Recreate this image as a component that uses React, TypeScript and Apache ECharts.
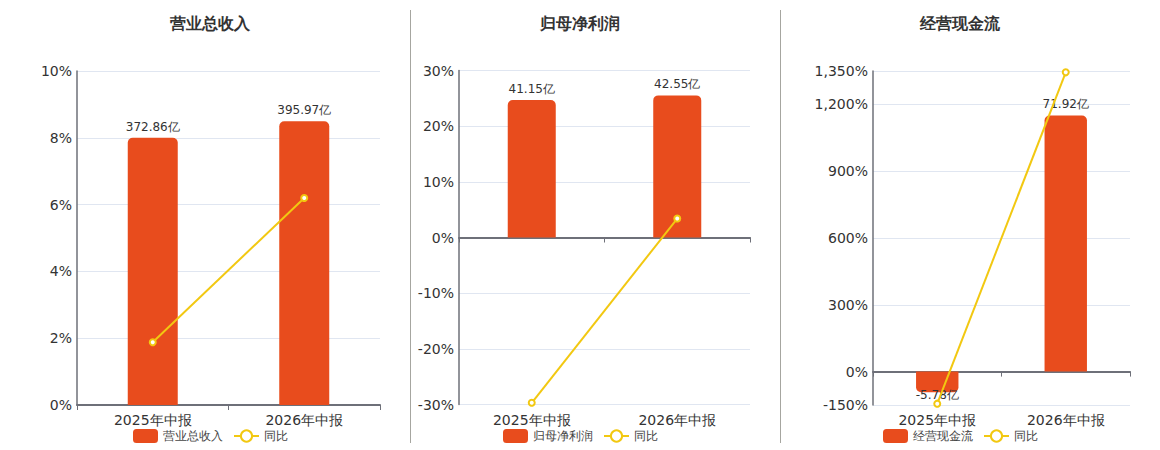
import React, { useEffect, useRef } from "react";
import * as echarts from "echarts";

const categories = ["2025年中报", "2026年中报"];
const titles = ["营业总收入", "归母净利润", "经营现金流"];
const revenue = [372.86, 395.97];
const revenueYoy = [1.88, 6.2];
const netProfit = [41.15, 42.55];
const netProfitYoy = [-29.7, 3.4];
const cashFlow = [-5.78, 71.92];
const cashFlowYoy = [-144, 1344];
const cashFlowTicks = [-150, 0, 300, 600, 900, 1200, 1350];

const BAR = "#E84C1D";
const LINE = "#F2C811";
const AXIS = "#6E7079";
const TEXT = "#333";
const FONT = "'DejaVu Sans', sans-serif";

const barValues = [revenue, netProfit, cashFlow];
const yoyValues = [revenueYoy, netProfitYoy, cashFlowYoy];

const grids = [
  { left: 77, top: 71, width: 303, height: 334 },
  { left: 459, top: 70.5, width: 291, height: 334 },
  { left: 873, top: 71, width: 257, height: 334 },
];
const centers = [210, 580, 960];
const legendLefts = [128, 498, 878];

const pctAxes = [
  { min: 0, max: 10, interval: 2 },
  { min: -30, max: 30, interval: 10 },
  { min: -150, max: 1350, interval: 150, customValues: cashFlowTicks },
];
const barAxes = [
  { min: 0, max: 466.1 },
  { min: -50, max: 50 },
  { min: -9.38, max: 84.4 },
];

function fmtPct(v: number) {
  return v.toLocaleString("en-US") + "%";
}

export default function App() {
  const ref = useRef<HTMLDivElement>(null);
  useEffect(() => {
    document.body.style.margin = "0";
    if (!ref.current) return;
    const chart = echarts.init(ref.current, undefined, { renderer: "svg" });

    const xAxis: any[] = [];
    const yAxis: any[] = [];
    const series: any[] = [];
    const graphic: any[] = [];
    const legend: any[] = [];

    for (let i = 0; i < 3; i++) {
      xAxis.push({
        type: "category",
        gridIndex: i,
        data: categories,
        position: "bottom",
        axisLine: { show: false, onZero: false },
        axisTick: { show: false },
        axisLabel: { color: TEXT, fontSize: 14, margin: 8, fontFamily: FONT },
      });
      xAxis.push({
        type: "category",
        gridIndex: i,
        data: categories,
        position: "bottom",
        axisLine: { show: true, onZero: true, lineStyle: { color: AXIS, width: 2 } },
        axisTick: { show: true, length: 5, lineStyle: { color: AXIS, width: 1 } },
        axisLabel: { show: false },
      });
      const p: any = pctAxes[i];
      yAxis.push({
        type: "value",
        gridIndex: i,
        min: p.min,
        max: p.max,
        interval: p.interval,
        axisLine: { show: true, lineStyle: { color: AXIS, width: 1.5 } },
        axisTick: p.customValues ? { show: false, customValues: p.customValues } : { show: false },
        axisLabel: {
          color: TEXT,
          fontSize: 14,
          margin: 5,
          fontFamily: FONT,
          formatter: (v: number) => fmtPct(v),
          ...(p.customValues ? { customValues: p.customValues } : {}),
        },
        splitLine: { show: true, lineStyle: { color: "#E0E6F1" } },
      });
      yAxis.push({
        type: "value",
        gridIndex: i,
        show: false,
        min: barAxes[i].min,
        max: barAxes[i].max,
        splitLine: { show: false },
      });

      series.push({
        type: "bar",
        name: titles[i],
        xAxisIndex: 2 * i,
        yAxisIndex: 2 * i + 1,
        barWidth: "33%",
        itemStyle: { color: BAR },
        data: barValues[i].map((v) => ({
          value: v,
          itemStyle: { borderRadius: v >= 0 ? [5, 5, 0, 0] : [0, 0, 5, 5] },
          label: {
            show: true,
            position: v >= 0 ? "top" : "bottom",
            distance: v >= 0 ? 5 : -3,
            color: TEXT,
            fontSize: 12,
            fontFamily: FONT,
            formatter: (prm: any) => prm.value + "亿",
          },
        })),
      });
      series.push({
        type: "line",
        name: "同比",
        xAxisIndex: 2 * i,
        yAxisIndex: 2 * i,
        symbol: "emptyCircle",
        symbolSize: 6,
        itemStyle: { color: LINE, borderWidth: 2 },
        lineStyle: { color: LINE, width: 2 },
        data: yoyValues[i],
        z: 5,
      });

      graphic.push({
        type: "text",
        x: centers[i],
        y: 23,
        style: {
          text: titles[i],
          fill: TEXT,
          font: "bold 16px " + FONT,
          textAlign: "center",
          textVerticalAlign: "middle",
        },
      });
      legend.push({
        data: [titles[i], "同比"],
        left: legendLefts[i],
        top: 424,
        itemWidth: 25,
        itemHeight: 14,
        itemGap: 10,
        textStyle: { color: "#444", fontSize: 12, fontFamily: FONT },
        selectedMode: false,
      });
    }

    graphic.push(
      { type: "line", shape: { x1: 410.5, y1: 10, x2: 410.5, y2: 443 }, style: { stroke: "#A6A6A0", lineWidth: 1 } },
      { type: "line", shape: { x1: 780.5, y1: 10, x2: 780.5, y2: 443 }, style: { stroke: "#A6A6A0", lineWidth: 1 } }
    );

    chart.setOption({
      animation: false,
      backgroundColor: "#fff",
      textStyle: { fontFamily: FONT },
      legend,
      grid: grids,
      xAxis,
      yAxis,
      series,
      graphic,
    });
    return () => chart.dispose();
  }, []);
  return <div ref={ref} style={{ width: 1160, height: 450 }} />;
}
